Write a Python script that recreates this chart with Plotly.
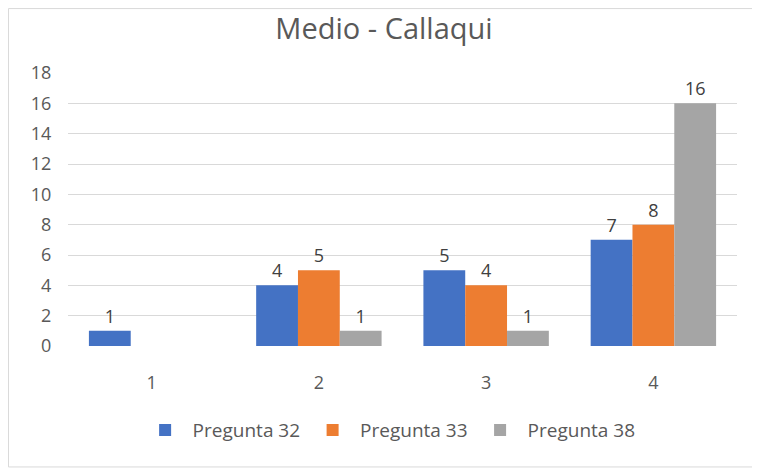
import plotly.graph_objects as go

categories = ["1", "2", "3", "4"]
series_names = ["Pregunta 32", "Pregunta 33", "Pregunta 38"]
pregunta_32 = [1, 4, 5, 7]
pregunta_33 = [None, 5, 4, 8]
pregunta_38 = [None, 1, 1, 16]
y_ticks = list(range(0, 19, 2))

COLORS = ["#4472C4", "#ED7D31", "#A5A5A5"]
FONT = "Open Sans, Liberation Sans, sans-serif"

fig = go.Figure()
for name, vals, col in zip(series_names, [pregunta_32, pregunta_33, pregunta_38], COLORS):
    fig.add_trace(go.Bar(
        x=categories, y=vals, name=name,
        marker=dict(color=col, line=dict(width=0)),
        text=[("" if v is None else str(v)) for v in vals],
        textposition="outside", cliponaxis=False,
        textfont=dict(size=18, color="#404040", family=FONT),
    ))

# light outer border of the chart area
fig.add_shape(type="rect", xref="paper", yref="paper",
              x0=-0.089, x1=1.027, y0=-0.443, y1=1.236,
              line=dict(color="#D9D9D9", width=1), layer="below")

# page body adds 8px offset, so the figure is 752x462
fig.update_layout(
    width=752, height=462,
    margin=dict(l=60, r=23, t=65, b=124),
    plot_bgcolor="white", paper_bgcolor="white",
    barmode="group", bargap=0.25, bargroupgap=0,
    title=dict(text="Medio - Callaqui", x=0.5, xanchor="center",
               y=0.955, yanchor="middle",
               font=dict(size=29, color="#595959", family=FONT)),
    font=dict(family=FONT, color="#595959"),
    xaxis=dict(showgrid=False, zeroline=False, showline=False,
               tickfont=dict(size=18, color="#595959"),
               ticks="outside", ticklen=20, tickcolor="white"),
    yaxis=dict(range=[0, 18], tickvals=y_ticks, showgrid=True, gridcolor="#D9D9D9",
               gridwidth=1, zeroline=False, showline=False,
               tickfont=dict(size=18, color="#595959"),
               ticks="outside", ticklen=12, tickcolor="white"),
    legend=dict(orientation="h", x=0.48, xanchor="center", y=-0.308, yanchor="middle",
                font=dict(size=19, color="#595959"), itemwidth=45,
                traceorder="normal"),
    showlegend=True,
)

fig.write_html("out.html")
